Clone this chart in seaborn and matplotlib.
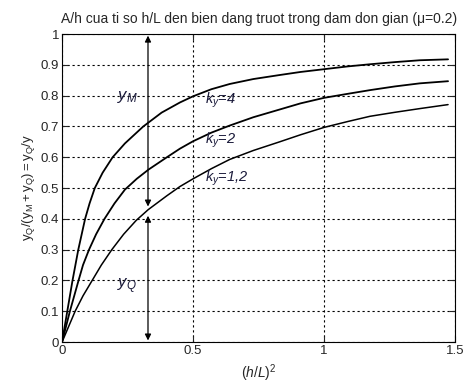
import numpy as np
import pandas as pd
import matplotlib
matplotlib.use("Agg")
import matplotlib.pyplot as plt
import seaborn as sns

# values
x_k4 = [0, 0.02, 0.04, 0.062, 0.075, 0.088, 0.105, 0.125, 0.155, 0.193, 0.24, 0.31, 0.38, 0.45,
        0.5, 0.57, 0.64, 0.73, 0.83, 0.91, 1.0, 1.09, 1.175, 1.27, 1.365, 1.473]
y_k4 = [0, 0.1, 0.2, 0.3, 0.35, 0.4, 0.45, 0.5, 0.55, 0.6, 0.645, 0.7, 0.745, 0.778,
        0.798, 0.821, 0.838, 0.854, 0.867, 0.877, 0.886, 0.895, 0.902, 0.909, 0.915, 0.918]

x_k2 = [0, 0.03, 0.063, 0.08, 0.103, 0.13, 0.162, 0.20, 0.24, 0.285, 0.33, 0.40, 0.45, 0.5,
        0.57, 0.64, 0.73, 0.83, 0.91, 1.0, 1.09, 1.175, 1.27, 1.365, 1.473]
y_k2 = [0, 0.1, 0.2, 0.25, 0.3, 0.35, 0.4, 0.45, 0.495, 0.53, 0.56, 0.60, 0.628, 0.652,
        0.68, 0.703, 0.73, 0.755, 0.775, 0.793, 0.806, 0.818, 0.83, 0.84, 0.847]

x_k12 = [0, 0.05, 0.08, 0.115, 0.15, 0.19, 0.235, 0.283, 0.329, 0.40, 0.45, 0.5, 0.57, 0.64,
         0.73, 0.83, 0.91, 1.0, 1.09, 1.175, 1.27, 1.365, 1.473]
y_k12 = [0, 0.1, 0.15, 0.2, 0.25, 0.3, 0.35, 0.395, 0.43, 0.475, 0.505, 0.53, 0.563, 0.593,
         0.622, 0.65, 0.673, 0.697, 0.716, 0.733, 0.746, 0.758, 0.771]

arrow_x = 0.328
split_y = 0.43

labels_k = ["$k_y$=4", "$k_y$=2", "$k_y$=1,2"]
labels_k_pos = [(0.545, 0.775), (0.545, 0.645), (0.545, 0.52)]

sns.set_style("ticks")
plt.rcParams["font.family"] = ["Liberation Sans", "DejaVu Sans"]
plt.rcParams["mathtext.fontset"] = "custom"
plt.rcParams["mathtext.rm"] = "Liberation Sans"
plt.rcParams["mathtext.it"] = "Liberation Sans:italic"

fig = plt.figure(figsize=(4.63, 3.83), dpi=100)
ax = fig.add_axes([0.134, 0.107, 0.849, 0.804])

for xs, ys, lw in [(x_k4, y_k4, 1.3), (x_k2, y_k2, 1.3), (x_k12, y_k12, 1.1)]:
    df = pd.DataFrame({"x": xs, "y": ys})
    sns.lineplot(data=df, x="x", y="y", ax=ax, color="black", linewidth=lw, sort=False)

ax.set_xlim(0, 1.5)
ax.set_ylim(0, 1)
ax.set_xticks([0, 0.5, 1, 1.5])
ax.set_xticklabels(["0", "0.5", "1", "1.5"])
ax.set_yticks(np.round(np.arange(0, 1.01, 0.1), 1))
ax.set_yticklabels(["0"] + [f"{v:.1f}" for v in np.arange(0.1, 0.95, 0.1)] + ["1"])
ax.grid(True, color="black", linestyle=(0, (2, 2.5)), linewidth=0.8)
ax.tick_params(direction="in", top=True, right=True, labelsize=9.5, length=4, pad=2)
for s in ax.spines.values():
    s.set_linewidth(0.8)
    s.set_color("black")

# arrows
ax.annotate("", xy=(arrow_x, 0.995), xytext=(arrow_x, split_y + 0.01),
            arrowprops=dict(arrowstyle="<|-|>", color="black", lw=0.9, mutation_scale=9, shrinkA=0, shrinkB=0))
ax.annotate("", xy=(arrow_x, 0.005), xytext=(arrow_x, split_y - 0.02),
            arrowprops=dict(arrowstyle="<|-|>", color="black", lw=0.9, mutation_scale=9, shrinkA=0, shrinkB=0))

ax.text(0.21, 0.785, "$y_M$", fontsize=12, color="#1a1a3a")
ax.text(0.21, 0.175, "$y_Q$", fontsize=12, color="#1a1a3a")
for lab, (lx, ly) in zip(labels_k, labels_k_pos):
    ax.text(lx, ly, lab, fontsize=10.5, color="#1a1a3a", style="italic")

ax.set_title("A/h cua ti so h/L den bien dang truot trong dam don gian (\u03bc=0.2)", fontsize=10, pad=8)
ax.set_xlabel("$(h/L)^2$", fontsize=10, labelpad=4)
ax.set_ylabel("$\\mathrm{y_Q/(y_M+y_Q)=y_Q/y}$", fontsize=9.5, labelpad=3)

fig.savefig("out.png", dpi=100)
